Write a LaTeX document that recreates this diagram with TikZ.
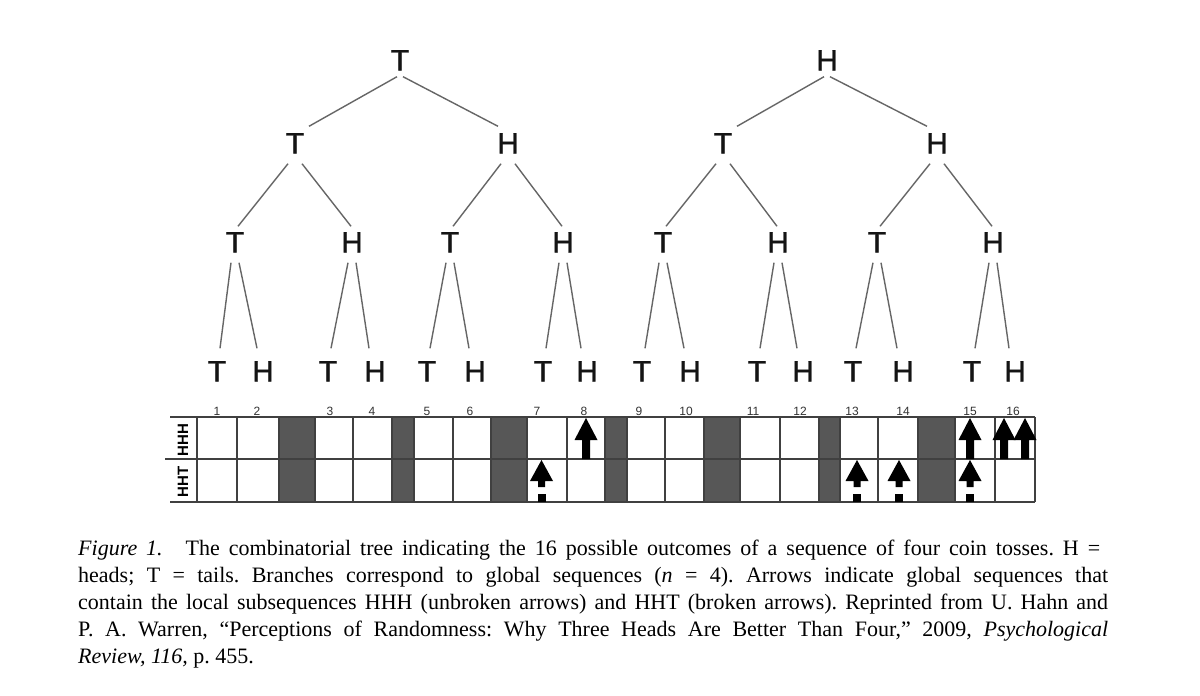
\documentclass[tikz,border=0pt]{standalone}
\usepackage{fontspec}
\setmainfont{Liberation Serif}
\setsansfont{Liberation Sans}
\newfontfamily\treefont[FakeBold=1.2]{Liberation Sans}
\newcommand\tedg[6]{\draw[edge] ([shift={(#3,#4)}]#1.south) -- ([shift={(#5,#6)}]#2.north);}
\newcommand\solidarr[1]{\fill[arr] (#1,418) -- ++(11.5,22) -- ++(-7.5,0) -- ++(0,19) -- ++(-8,0) -- ++(0,-19) -- ++(-7.5,0) -- cycle;}
\newcommand\brokenarr[1]{\fill[arr] (#1,460) -- ++(11.5,21) -- ++(-8,0) -- ++(0,6) -- ++(-7,0) -- ++(0,-6) -- ++(-8,0) -- cycle; \fill[arr] (#1-4,494) rectangle ++(8,8);}
\begin{document}
\frenchspacing
\begin{tikzpicture}[x=1pt,y=-1pt,
  tl/.style={font=\treefont\fontsize{29.5}{29.5}\selectfont, inner sep=0pt, text height=21pt, text depth=0pt, text=black!92},
  edge/.style={draw=black!60, line width=1.4pt},
  gridline/.style={draw=black!75, line width=1.3pt},
  bar/.style={fill=black!66},
  num/.style={font=\sffamily\fontsize{12}{12}\selectfont, text=black!80, anchor=base, inner sep=0pt},
  rowlab/.style={font=\sffamily\bfseries\fontsize{15}{15}\selectfont, rotate=90, inner sep=0pt},
  captext/.style={font=\fontsize{22}{27}\selectfont, anchor=base west, inner sep=0pt},
  arr/.style={fill=black}
]
\useasboundingbox (0,0) rectangle (1200,696);
\fill[white] (0,0) rectangle (1200,696);

% ---------- left tree ----------
\node[tl] (a) at (400,60) {T};
\node[tl] (a0) at (295,143) {T};
\node[tl] (a1) at (508,143) {H};
\node[tl] (a00) at (235,242) {T};
\node[tl] (a01) at (352,242) {H};
\node[tl] (a10) at (450,242) {T};
\node[tl] (a11) at (563,242) {H};
\node[tl] (a000) at (217,371) {T};
\node[tl] (a001) at (263,371) {H};
\node[tl] (a010) at (328,371) {T};
\node[tl] (a011) at (375,371) {H};
\node[tl] (a100) at (427,371) {T};
\node[tl] (a101) at (475,371) {H};
\node[tl] (a110) at (543,371) {T};
\node[tl] (a111) at (587,371) {H};
% ---------- right tree ----------
\node[tl] (b) at (827,60) {H};
\node[tl] (b0) at (723,143) {T};
\node[tl] (b1) at (937,143) {H};
\node[tl] (b00) at (663,242) {T};
\node[tl] (b01) at (778,242) {H};
\node[tl] (b10) at (877,242) {T};
\node[tl] (b11) at (993,242) {H};
\node[tl] (b000) at (642,371) {T};
\node[tl] (b001) at (690,371) {H};
\node[tl] (b010) at (757,371) {T};
\node[tl] (b011) at (803,371) {H};
\node[tl] (b100) at (853,371) {T};
\node[tl] (b101) at (903,371) {H};
\node[tl] (b110) at (972,371) {T};
\node[tl] (b111) at (1015,371) {H};

% edges
\foreach \t in {a,b}{
  \tedg{\t}{\t0}{-3}{6}{14}{-6}
  \tedg{\t}{\t1}{3}{6}{-10}{-6}
  \foreach \p in {0,1}{
    \tedg{\t\p}{\t\p0}{-7}{10}{3}{-5}
    \tedg{\t\p}{\t\p1}{7}{10}{-1}{-5}
    \foreach \q in {0,1}{
      \tedg{\t\p\q}{\t\p\q0}{-4}{10}{3}{-12}
      \tedg{\t\p\q}{\t\p\q1}{4}{10}{-6}{-12}
    }
  }
}

% ---------- grid ----------
\foreach \l/\r in {279/315,392/414,491/527,605/627,704/740,819/840,918/955}
  \fill[bar] (\l,417) rectangle (\r,502);
\draw[gridline] (170,417) -- (1035,417);
\draw[gridline] (165,459) -- (1035,459);
\draw[gridline] (170,502) -- (1035,502);
\foreach \x in {197,237,279,315,353,392,414,453,491,527,567,605,627,665,704,740,780,819,840,878,918,955,995,1035}
  \draw[gridline] (\x,417) -- (\x,502);

% column numbers
\foreach \x/\n in {217/1,257/2,330/3,372/4,427/5,470/6,537/7,584/8,639/9,686/10,753/11,800/12,852/13,903/14,970/15,1013/16}
  \node[num] (n\n) at (\x,415) {\n};

% row labels
\node[rowlab] (rHHH) at (183,440) {HHH};
\node[rowlab] (rHHT) at (183,482) {HHT};

% arrows
\solidarr{586}
\solidarr{970}
\solidarr{1004}
\solidarr{1025}
\brokenarr{541.5}
\brokenarr{857}
\brokenarr{899}
\brokenarr{970}

% ---------- caption ----------
\node[captext] (c1) at (78,555) {\makebox[1022pt][s]{\textit{Figure 1.}\hspace{14pt} The combinatorial tree indicating the 16 possible outcomes of a sequence of four coin tosses. H =}};
\node[captext] (c2) at (78,582.2) {\makebox[1030pt][s]{heads; T = tails. Branches correspond to global sequences (\textit{n} = 4). Arrows indicate global sequences that}};
\node[captext] (c3) at (78,609.4) {\makebox[1030pt][s]{contain the local subsequences HHH (unbroken arrows) and HHT (broken arrows). Reprinted from U. Hahn and}};
\node[captext] (c4) at (78,636.6) {\makebox[1030pt][s]{P. A. Warren, “Perceptions of Randomness: Why Three Heads Are Better Than Four,” 2009, \textit{Psychological}}};
\node[captext] (c5) at (78,663.8) {\textit{Review, 116,} p. 455.};
\end{tikzpicture}
\end{document}
